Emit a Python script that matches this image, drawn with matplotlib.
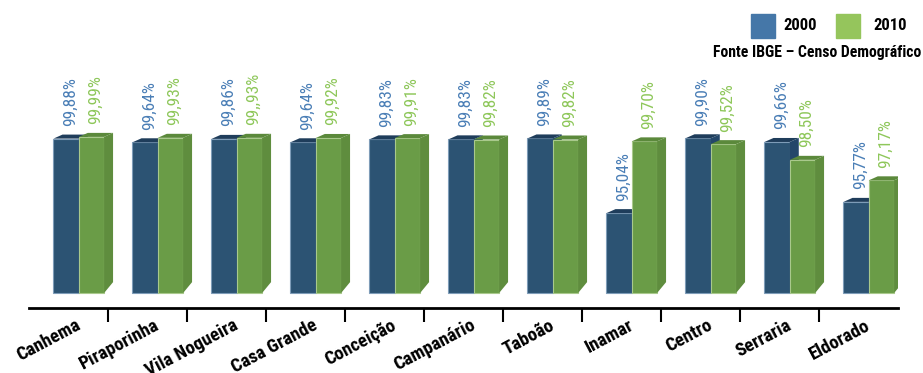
import matplotlib
matplotlib.use('Agg')
import matplotlib.pyplot as plt
from matplotlib import font_manager
from matplotlib.patches import Polygon, Rectangle
import numpy as np

# dados - Fonte IBGE, Censo Demográfico
bairros = ['Canhema', 'Piraporinha', 'Vila Nogueira', 'Casa Grande', 'Conceição',
           'Campanário', 'Taboão', 'Inamar', 'Centro', 'Serraria', 'Eldorado']
v2000 = [99.88, 99.64, 99.86, 99.64, 99.83, 99.83, 99.89, 95.04, 99.90, 99.66, 95.77]
v2010 = [99.99, 99.93, 99.93, 99.92, 99.91, 99.82, 99.82, 99.70, 99.52, 98.50, 97.17]
rot2000 = ['99,88%', '99,64%', '99,86%', '99,64%', '99,83%', '99,83%', '99,89%',
           '95,04%', '99,90%', '99,66%', '95,77%']
rot2010 = ['99,99%', '99,93%', '99,,93%', '99,92%', '99,91%', '99,82%', '99,82%',
           '99,70%', '99,52%', '98,50%', '97,17%']

# cores: frente, topo, lateral, borda, rotulo
cor_2000 = ('#2c5373', '#1f3d5b', '#24476a', '#7e9cb8', '#4a7eb6')
cor_2010 = ('#6a9c47', '#5b893b', '#5f8d3e', '#a9c98c', '#8ec75a')
leg_2000 = '#4577a8'
leg_2010 = '#95c55c'

# procura uma fonte estreita (condensed) instalada
fontes = font_manager.fontManager.ttflist
estreitas = ('condensed', 'semi-condensed', 'extra-condensed', 'ultra-condensed')
opcoes = [('Roboto Condensed', 'normal'), ('Liberation Sans Narrow', 'normal'),
          ('Open Sans Condensed', 'normal'), ('DejaVu Sans', 'condensed'),
          ('Noto Sans', 'condensed'), ('Open Sans', 'condensed'), ('Roboto', 'condensed')]
familia, stretch, esc = 'Roboto', 'normal', 0.82
for nome, st in opcoes:
    if any(f.name == nome and (st == 'normal' or f.stretch in estreitas) for f in fontes):
        familia, stretch, esc = nome, st, 1.0
        break
plt.rcParams['font.family'] = [familia, 'DejaVu Sans']
plt.rcParams['font.stretch'] = stretch

fig = plt.figure(figsize=(9.23, 3.73), dpi=100)
ax = fig.add_axes([29 / 923, 65 / 373, 869 / 923, 288 / 373])
base = 89.85
ax.set_xlim(0, 11)
ax.set_ylim(88.88, 107.58)

x = np.arange(len(bairros))
w = 0.32
dx = 0.114      # profundidade (efeito 3d)
dy_top = 0.26
dy_bot = 0.71


def barras_3d(pos, vals, cores, rotulos):
    frente, topo, lado, borda, cor_txt = cores
    ax.bar(pos, np.array(vals) - base, bottom=base, width=w, align='edge',
           color=frente, edgecolor=borda, linewidth=0.8, zorder=2)
    for x0, v, txt in zip(pos, vals, rotulos):
        x1 = x0 + w
        ax.add_patch(Polygon([(x0, v), (x1, v), (x1 + dx, v + dy_top), (x0 + dx, v + dy_top)],
                             closed=True, facecolor=topo, edgecolor='none', zorder=2))
        ax.add_patch(Polygon([(x1, base), (x1, v), (x1 + dx, v + dy_top), (x1 + dx, base + dy_bot)],
                             closed=True, facecolor=lado, edgecolor='none', zorder=2))
        ax.annotate(txt, (x0 + w / 2 + 0.05, v), xytext=(0, 9), textcoords='offset points',
                    rotation=90, ha='center', va='bottom', color=cor_txt,
                    fontsize=12.5 * esc)


barras_3d(x + 0.31, v2000, cor_2000, rot2000)
barras_3d(x + 0.31 + w, v2010, cor_2010, rot2010)

for s in ['top', 'right', 'left']:
    ax.spines[s].set_visible(False)
ax.spines['bottom'].set_linewidth(2)
ax.set_yticks([])
ax.set_xticks(np.arange(1, 11))
ax.set_xticklabels([])
ax.tick_params(axis='x', which='major', length=10, width=1.5, direction='out')
ax.set_xticks(x + 0.58, minor=True)
ax.set_xticklabels(bairros, minor=True, rotation=28, ha='right', va='top',
                   rotation_mode='anchor', fontsize=13.5 * esc, fontweight='bold')
ax.tick_params(axis='x', which='minor', length=0, pad=6)

# legenda
fig.add_artist(Rectangle((751 / 923, 1 - 38 / 373), 24 / 923, 24 / 373,
                         transform=fig.transFigure, color=leg_2000))
fig.text(783 / 923, 1 - 26 / 373, '2000', fontsize=12 * esc, fontweight='bold', va='center')
fig.add_artist(Rectangle((836 / 923, 1 - 38 / 373), 24 / 923, 24 / 373,
                         transform=fig.transFigure, color=leg_2010))
fig.text(873 / 923, 1 - 26 / 373, '2010', fontsize=12 * esc, fontweight='bold', va='center')
fig.text(921 / 923, 1 - 53 / 373, 'Fonte IBGE – Censo Demográfico', fontsize=11.3 * esc,
         fontweight='bold', ha='right', va='center')

fig.savefig('out.png', dpi=100)
